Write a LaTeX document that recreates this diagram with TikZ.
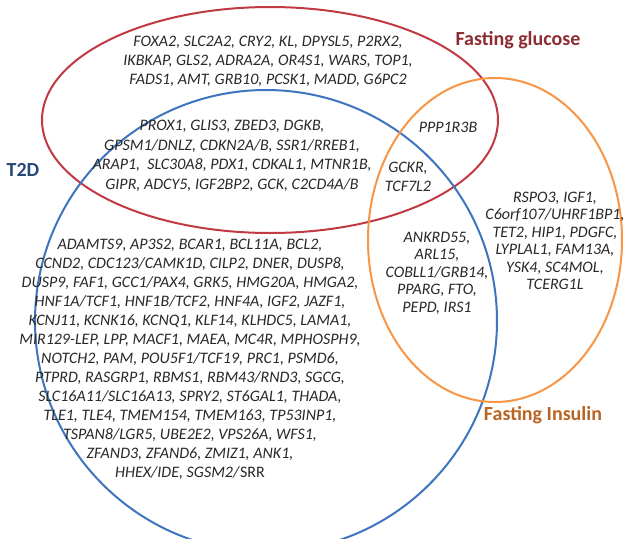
\documentclass[tikz,border=0pt]{standalone}
\usepackage{fontspec}
\setmainfont{Carlito}
\definecolor{fgred}{RGB}{192,57,67}
\definecolor{tdblue}{RGB}{62,117,190}
\definecolor{fiorange}{RGB}{247,150,70}
\definecolor{fglab}{RGB}{139,45,50}
\definecolor{tdlab}{RGB}{40,72,120}
\definecolor{filab}{RGB}{185,100,35}
\definecolor{genegray}{RGB}{40,40,40}

\begin{document}
\begin{tikzpicture}[x=1pt, y=-1pt,
    set/.style={line width=2pt},
    genes/.style={align=center, inner sep=0pt, text=genegray,
                  font=\fontsize{16}{19}\selectfont\itshape},
    tight/.style={font=\fontsize{16}{17.5}\selectfont\itshape},
    setlab/.style={inner sep=0pt, font=\fontsize{20}{24}\selectfont\bfseries}
  ]
    \useasboundingbox[fill=white] (0,0) rectangle (625,539);

    % the three sets
    \draw[set, fgred] (270,120) ellipse [x radius=228pt, y radius=113pt];
    \draw[set, tdblue] (266,321) ellipse [x radius=231pt, y radius=231pt];
    \draw[set, fiorange] (495,240) ellipse [x radius=127pt, y radius=162pt];

    % set names
    \node[setlab, text=fglab] (fglabel) at (518,40) {Fasting glucose};
    \node[setlab, text=tdlab] (tdlabel) at (23,170) {T2D};
    \node[setlab, text=filab] (filabel) at (543,415) {Fasting Insulin};

    % gene lists
    \node[genes] (fgonly) at (268,61) {FOXA2, SLC2A2, CRY2, KL, DPYSL5, P2RX2,\\
      IKBKAP, GLS2, ADRA2A, OR4S1, WARS, TOP1,\\
      FADS1, AMT, GRB10, PCSK1, MADD, G6PC2};
    \node[genes, font=\fontsize{16}{19.5}\selectfont\itshape] (fgtd) at (232,156)
      {PROX1, GLIS3, ZBED3, DGKB,\\
      GPSM1/DNLZ, CDKN2A/B, SSR1/RREB1,\\
      ARAP1,\ \ SLC30A8, PDX1, CDKAL1, MTNR1B,\\
      GIPR, ADCY5, IGF2BP2, GCK, C2CD4A/B};
    \node[genes] (fgfi) at (448,127) {PPP1R3B};
    \node[genes] (allthree) at (408,176.5) {GCKR,\\TCF7L2};
    \node[genes, tight] (fionly) at (555,241) {RSPO3, IGF1,\\
      C6orf107/UHRF1BP1,\\
      TET2, HIP1, PDGFC,\\
      LYPLAL1, FAM13A,\\
      YSK4, SC4MOL,\\
      TCERG1L};
    \node[genes, tight] (tdfi) at (437,273) {ANKRD55,\\
      ARL15,\\
      COBLL1/GRB14,\\
      PPARG, FTO,\\
      PEPD, IRS1};
    \node[genes] (tdonly) at (190,359) {ADAMTS9, AP3S2, BCAR1, BCL11A, BCL2,\\
      CCND2, CDC123/CAMK1D, CILP2, DNER, DUSP8,\\
      DUSP9, FAF1, GCC1/PAX4, GRK5, HMG20A, HMGA2,\\
      HNF1A/TCF1, HNF1B/TCF2, HNF4A, IGF2, JAZF1,\\
      KCNJ11, KCNK16, KCNQ1, KLF14, KLHDC5, LAMA1,\\
      MIR129-LEP, LPP, MACF1, MAEA, MC4R, MPHOSPH9,\\
      NOTCH2, PAM, POU5F1/TCF19, PRC1, PSMD6,\\
      PTPRD, RASGRP1, RBMS1, RBM43/RND3, SGCG,\\
      SLC16A11/SLC16A13, SPRY2, ST6GAL1, THADA,\\
      TLE1, TLE4, TMEM154, TMEM163, TP53INP1,\\
      TSPAN8/LGR5, UBE2E2, VPS26A, WFS1,\\
      ZFAND3, ZFAND6, ZMIZ1, ANK1,\\
      HHEX/IDE, SGSM2/\textup{SRR}};
\end{tikzpicture}
\end{document}
